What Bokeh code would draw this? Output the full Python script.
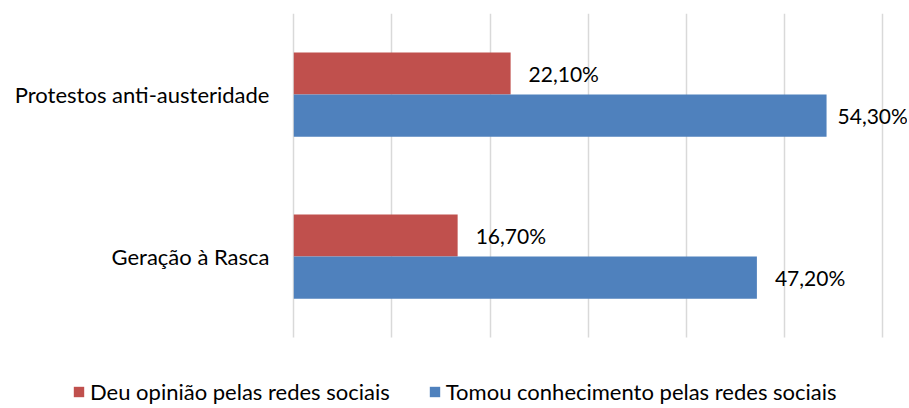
from bokeh.plotting import figure
from bokeh.models import ColumnDataSource, Legend, LegendItem, LabelSet, FixedTicker, Range1d
from bokeh.core.properties import value
from bokeh.transform import dodge
from bokeh.embed import file_html
from bokeh.resources import INLINE

categories = ["Geração à Rasca", "Protestos anti-austeridade"]
opiniao = [16.7, 22.1]
conhecimento = [47.2, 54.3]
opiniao_labels = ["16,70%", "22,10%"]
conhecimento_labels = ["47,20%", "54,30%"]
series_names = ["Deu opinião pelas redes sociais", "Tomou conhecimento pelas redes sociais"]
x_ticks = [0, 10, 20, 30, 40, 50, 60]

# label gaps (style, px)
gap_opiniao = [18, 18]
gap_conhecimento = [18, 11]

RED = "#C0504D"
BLUE = "#4F81BD"
FONT = "Lato"
FS = "22px"

y_pos = [i + 0.5 for i in range(len(categories))]
src = ColumnDataSource(dict(y=y_pos, op=opiniao, co=conhecimento,
                            opl=opiniao_labels, col=conhecimento_labels,
                            opg=gap_opiniao, cog=gap_conhecimento))

p = figure(width=907, height=407, x_range=Range1d(-25.102, 62.55),
           y_range=Range1d(-0.432, len(categories)),
           output_backend="svg", toolbar_location=None,
           min_border_left=47, min_border_right=0, min_border_top=13, min_border_bottom=0)
p.outline_line_color = None

r1 = p.hbar(y=dodge("y", 0.13), right="op", left=0, height=0.26,
            source=src, color=RED, line_color=None)
r2 = p.hbar(y=dodge("y", -0.13), right="co", left=0, height=0.26,
            source=src, color=BLUE, line_color=None)

for col, lab, off, gap in [("op", "opl", 0.13, "opg"), ("co", "col", -0.13, "cog")]:
    ls = LabelSet(x=col, y=dodge("y", off), text=lab, source=src,
                  x_offset=gap, text_baseline="middle", text_align="left",
                  text_font=value(FONT), text_font_size="21px", text_color="#000000")
    p.add_layout(ls)

p.xaxis.visible = False
p.xaxis.ticker = FixedTicker(ticks=x_ticks)
p.xgrid.ticker = FixedTicker(ticks=x_ticks)
p.xgrid.cross_bounds = (0, len(categories))
p.xgrid.grid_line_color = "#D9D9D9"
p.xgrid.grid_line_width = 1.5
p.ygrid.grid_line_color = None

p.yaxis.ticker = FixedTicker(ticks=y_pos)
p.yaxis.major_label_overrides = dict(zip(y_pos, categories))
p.yaxis.axis_line_color = None
p.yaxis.major_tick_line_color = None
p.yaxis.minor_tick_line_color = None
p.yaxis.major_tick_out = 0
p.yaxis.major_tick_in = 0
p.yaxis.major_label_standoff = -222
p.yaxis.major_label_text_font = FONT
p.yaxis.major_label_text_font_size = FS
p.yaxis.major_label_text_color = "#000000"

legend = Legend(items=[LegendItem(label=series_names[0], renderers=[r1]),
                       LegendItem(label=series_names[1], renderers=[r2])],
                orientation="horizontal", location=(25, 2),
                glyph_width=13, glyph_height=13, label_text_font=FONT,
                label_text_font_size=FS, label_text_color="#000000",
                spacing=38, padding=0, margin=0, label_standoff=5,
                border_line_color=None, background_fill_alpha=0)
p.add_layout(legend, "center")

open("out.html", "w").write(file_html(p, INLINE))
